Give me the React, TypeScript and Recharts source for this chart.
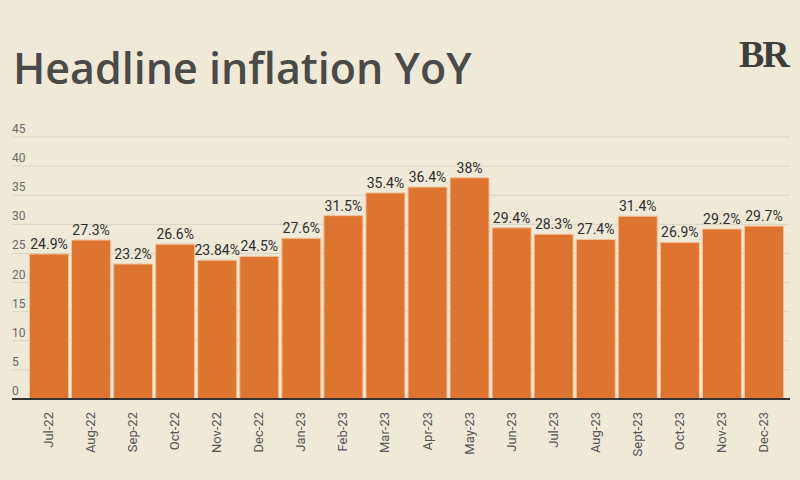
import { BarChart, Bar, XAxis, YAxis, CartesianGrid, LabelList } from "recharts";

const months = [
  "Jul-22", "Aug-22", "Sep-22", "Oct-22", "Nov-22", "Dec-22",
  "Jan-23", "Feb-23", "Mar-23", "Apr-23", "May-23", "Jun-23",
  "Jul-23", "Aug-23", "Sept-23", "Oct-23", "Nov-23", "Dec-23",
];
const inflation = [
  24.9, 27.3, 23.2, 26.6, 23.84, 24.5,
  27.6, 31.5, 35.4, 36.4, 38, 29.4,
  28.3, 27.4, 31.4, 26.9, 29.2, 29.7,
];
const yTicks = [0, 5, 10, 15, 20, 25, 30, 35, 40, 45];

const data = months.map((month, i) => ({ month, value: inflation[i] }));

const BG = "#efe9d8";
const BAR = "#dd7430";

function MonthTick(props: any) {
  const { x, y, payload } = props;
  return (
    <text
      x={x}
      y={y}
      transform={`rotate(-90, ${x}, ${y})`}
      dx={-5}
      dy={4}
      textAnchor="end"
      fill="#555"
      fontSize={13}
      fontFamily="Roboto, sans-serif"
    >
      {payload.value}
    </text>
  );
}

function ValueTick(props: any) {
  const { y, payload } = props;
  return (
    <text x={12} y={y - 4} textAnchor="start" fill="#6b6b66" fontSize={12} fontFamily="Roboto, sans-serif">
      {payload.value}
    </text>
  );
}

export default function App() {
  return (
    <div style={{ position: "absolute", left: 0, top: 0, width: 800, height: 480, background: BG, overflow: "hidden" }}>
      <div
        style={{
          position: "absolute",
          left: 13,
          top: 38,
          fontFamily: "'Open Sans', sans-serif",
          fontWeight: 600,
          fontSize: 43,
          color: "#4a4a48",
          whiteSpace: "nowrap",
          lineHeight: "60px",
        }}
      >
        Headline inflation YoY
      </div>
      <div
        style={{
          position: "absolute",
          left: 739,
          top: 32,
          fontFamily: "'Liberation Serif', serif",
          fontWeight: 700,
          fontSize: 38,
          color: "#3e3e3c",
          letterSpacing: -2,
          lineHeight: "44px",
        }}
      >
        BR
      </div>
      <div style={{ position: "absolute", left: 0, top: 0 }}>
        <BarChart
          width={800}
          height={480}
          data={data}
          margin={{ top: 137, right: 10, left: 12, bottom: 0 }}
          barCategoryGap={1.5}
        >
          <CartesianGrid vertical={false} stroke="#d9d3c2" strokeWidth={1} />
          <XAxis
            dataKey="month"
            height={81}
            padding={{ left: 16, right: 5 }}
            axisLine={{ stroke: "#333", strokeWidth: 2 }}
            tickLine={false}
            interval={0}
            tick={<MonthTick />}
          />
          <YAxis
            mirror
            domain={[0, 45]}
            ticks={yTicks}
            interval={0}
            axisLine={false}
            tickLine={false}
            tick={<ValueTick />}
          />
          <Bar dataKey="value" fill={BAR} stroke="#f2c39a" strokeWidth={1} isAnimationActive={false}>
            <LabelList
              dataKey="value"
              position="top"
              offset={5}
              formatter={(v: any) => `${v}%`}
              fill="#2e2e2e"
              fontSize={14}
              fontFamily="Roboto, sans-serif"
            />
          </Bar>
        </BarChart>
      </div>
    </div>
  );
}
